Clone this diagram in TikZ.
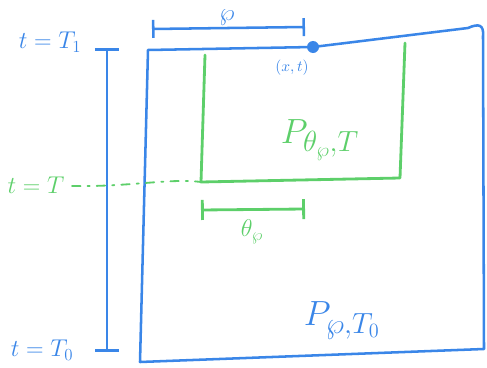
\documentclass[tikz,border=0pt]{standalone}
\usepackage{amsmath,amssymb}
\usetikzlibrary{arrows.meta,calc}
\definecolor{pen}{HTML}{3A86E8}
\definecolor{marker}{HTML}{5DCF6A}
\newcommand{\hand}{\fontsize{17}{19}\selectfont}
\newcommand{\bighand}{\fontsize{30}{32}\selectfont}
\tikzset{
 every node/.append style={inner sep=1pt},
 stroke/.style={draw=pen,line width=1.8pt,line cap=round,line join=round},
 gstroke/.style={draw=marker,line width=2pt,line cap=round,line join=round},
 word/.style={font=\hand,text=pen},
 gword/.style={word,text=marker},
 title/.style={font=\bighand,text=pen},
 gtitle/.style={title,text=marker},
 trace/.style={gstroke,line width=1.3pt,dash pattern=on 6pt off 5pt on 1.5pt off 5pt},
 span/.style={{Bar[width=#1]}-{Bar[width=#1]}},
}

\begin{document}
\begin{tikzpicture}[x=0.025cm,y=-0.025cm]
\useasboundingbox (0,0) rectangle (487,368);

% outer domain
\coordinate (tl) at (148,50);
\coordinate (pt) at (313,47);
\coordinate (tr) at (483,36);
\coordinate (br) at (484,349);
\coordinate (bl) at (140,362);
\draw[stroke] (tl) -- (pt) -- (468,28) .. controls (479,23) and (484,25) .. (tr)
  -- (br) -- (bl) -- cycle;
\fill[pen] (pt) circle (0.15cm);
\node[font=\fontsize{11}{12}\selectfont,text=pen] (xt) at (292,68) {$(x,t)$};

% width rho
\coordinate (ra) at (152,29);
\coordinate (rb) at (305,27);
\draw[stroke,span=4.5mm] (ra) -- (rb);
\node[word,font=\fontsize{19}{21}\selectfont,inner sep=0pt] (rho) at (227,18) {$\wp$};

% inner domain
\coordinate (ga) at (205,55);
\coordinate (gb) at (201,182);
\coordinate (gc) at (400,178);
\coordinate (gd) at (405,43);
\draw[gstroke] (ga) -- (gb) -- (gc) -- (gd);
\node[gtitle] (inner) at (320,140) {$P_{\theta_\wp,T}$};

% width theta rho
\coordinate (ta) at (201,210);
\coordinate (tb) at (305,209);
\draw[gstroke,span=5mm] (ta) -- (tb);
\node[gword] (theta) at (252,232) {$\theta_\wp$};

% time axis
\coordinate (t1) at (107,48);
\coordinate (t0) at (107,352);
\draw[stroke,span=6mm] (t1) -- (t0);
\node[word] (top) at (50,42) {$t=T_1$};
\node[word] (bottom) at (42,350) {$t=T_0$};
\node[gword] (mid) at (36,185) {$t=T$};
\draw[trace] (mid.east) ++(6,1) .. controls (130,187) and (170,178) .. (gb);

\node[title] (outer) at (342,320) {$P_{\wp,T_0}$};
\end{tikzpicture}
\end{document}
